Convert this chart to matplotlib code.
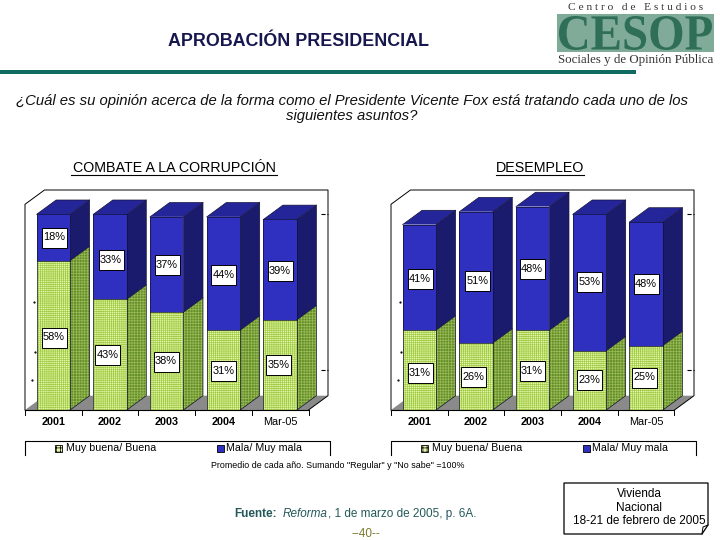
import matplotlib
matplotlib.use("Agg")
import matplotlib.pyplot as plt
from matplotlib.patches import PathPatch, Polygon, Rectangle
from matplotlib.font_manager import FontProperties
from matplotlib.textpath import TextPath
from matplotlib.transforms import Affine2D

plt.rcParams["font.family"] = ["Liberation Sans", "DejaVu Sans"]
plt.rcParams["hatch.linewidth"] = 0.5

# ── Data ──────────────────────────────────────────────────────────────────────
CATEGORIES = ["2001", "2002", "2003", "2004", "Mar-05"]
SERIES_NAMES = ["Muy buena/ Buena", "Mala/ Muy mala"]

CORRUPCION_BUENA = [58, 43, 38, 31, 35]
CORRUPCION_MALA = [18, 33, 37, 44, 39]
DESEMPLEO_BUENA = [31, 26, 31, 23, 25]
DESEMPLEO_MALA = [41, 51, 48, 53, 48]

# Label box centres in page pixels (placed by hand in the original too)
CORRUPCION_LABELS_BUENA = [(54, 337.5), (107.5, 355), (166, 361.5), (223.5, 370.5), (278.5, 364.5)]
CORRUPCION_LABELS_MALA = [(54, 237.5), (111, 260), (167, 265), (223.5, 274.5), (280, 270.5)]
DESEMPLEO_LABELS_BUENA = [(420, 373), (473.5, 376.5), (532, 370.5), (589.5, 380), (644, 377.5)]
DESEMPLEO_LABELS_MALA = [(420, 278.5), (477.5, 280.5), (532, 269), (589.5, 282), (646, 284)]

# ── Geometry / style ──────────────────────────────────────────────────────────
W, H = 720, 540
BASE_PX = 410
TOP_PX = 190
PX_PER_CAT = 56.7
PX_PER_PCT = 2.575
DEPTH_PX = (19.5, 14.3)
BAR_W = 0.59

GREEN_FRONT = "#e6f8ae"
GREEN_HATCH = "#a2cc48"
GREEN_SIDE = "#638f28"
GREEN_SIDE_HATCH = "#9cba58"
BLUE_FRONT = "#2f2fc0"
BLUE_SIDE = "#1b1b6e"
BLUE_TOP = "#25259a"
TEAL = "#0f6b5f"

fig = plt.figure(figsize=(W / 100, H / 100), dpi=100, facecolor="white")
page = fig.add_axes([0, 0, 1, 1], zorder=0)
page.set_xlim(0, W)
page.set_ylim(H, 0)
page.axis("off")
overlay = fig.add_axes([0, 0, 1, 1], zorder=5)
overlay.set_xlim(0, W)
overlay.set_ylim(H, 0)
overlay.axis("off")


def chart(left, buena, mala, labels_buena, labels_mala):
    width = PX_PER_CAT * len(CATEGORIES)
    ax = fig.add_axes(
        [left / W, 1 - BASE_PX / H, width / W, (BASE_PX - TOP_PX) / H], zorder=2
    )
    ax.set_xlim(-0.5, len(CATEGORIES) - 0.5)
    ax.set_ylim(0, (BASE_PX - TOP_PX) / PX_PER_PCT)
    ax.axis("off")
    dx = DEPTH_PX[0] / PX_PER_CAT
    dy = DEPTH_PX[1] / PX_PER_PCT

    def poly(pts, **kw):
        ax.add_patch(Polygon(pts, closed=True, clip_on=False, **kw))

    x0, x1 = -0.5, len(CATEGORIES) - 0.5
    ytop = ax.get_ylim()[1]
    # floor and back wall
    poly([(x0, 0), (x1, 0), (x1 + dx, dy), (x0 + dx, dy)], fc="#8a8a8a", ec="none", zorder=1)
    ax.plot(
        [x0, x0, x0 + dx, x1 + dx, x1 + dx, x1],
        [0, ytop - dy, ytop, ytop, dy, 0],
        color="black", lw=0.7, clip_on=False, zorder=1,
    )
    ax.plot([x0, x1], [0, 0], color="black", lw=0.8, clip_on=False, zorder=6)
    for i in range(len(CATEGORIES) + 1):
        ax.plot([x0 + i, x0 + i], [0, -2], color="black", lw=0.7, clip_on=False, zorder=6)
    # right-hand gridline stubs
    for y in (76, 15.5):
        ax.plot([x1 + dx - 0.12, x1 + dx], [y, y], color="black", lw=0.8, ls="--",
                clip_on=False, zorder=1)

    for i, (b, m) in enumerate(zip(buena, mala)):
        l, r = i - BAR_W / 2, i + BAR_W / 2
        t = b + m
        ax.bar(i, b, BAR_W, color=GREEN_FRONT, hatch="++++++++", edgecolor=GREEN_HATCH,
               linewidth=0, zorder=4)
        ax.bar(i, m, BAR_W, bottom=b, color=BLUE_FRONT, linewidth=0, zorder=4)
        ax.add_patch(Rectangle((l, 0), BAR_W, t, fc="none", ec="#111133", lw=0.5, zorder=5))
        ax.plot([l, r], [b, b], color="#111133", lw=0.5, zorder=5)
        poly([(r, 0), (r + dx, dy), (r + dx, b + dy), (r, b)], fc=GREEN_SIDE,
             ec=GREEN_SIDE_HATCH, hatch="++++++", lw=0, zorder=3)
        poly([(r, b), (r + dx, b + dy), (r + dx, t + dy), (r, t)], fc=BLUE_SIDE, ec="none", zorder=3)
        poly([(l, t), (r, t), (r + dx, t + dy), (l + dx, t + dy)], fc=BLUE_TOP, ec="none", zorder=3)
        ax.plot([r, r + dx, r + dx, l + dx, l], [0, dy, t + dy, t + dy, t],
                color="#111133", lw=0.5, clip_on=False, zorder=5)
        ax.plot([r, r + dx], [t, t + dy], color="#111133", lw=0.5, clip_on=False, zorder=5)
        ax.plot([r, r + dx], [b, b + dy], color="#111133", lw=0.5, clip_on=False, zorder=5)
        ax.text(i, -4.8, CATEGORIES[i], ha="center", va="center", fontsize=7.8,
                clip_on=False, fontweight="bold" if i < 4 else "normal")

    for vals, pos in ((buena, labels_buena), (mala, labels_mala)):
        for v, (px, py) in zip(vals, pos):
            overlay.add_patch(Rectangle((px - 12.5, py - 10), 25, 20, fc="white", ec="black", lw=0.7))
            overlay.text(px, py, f"{v}%", ha="center", va="center", fontsize=7.9)

    # specks left of the wall
    for sx, sy in ((8.5, 301.5), (9.5, 352), (7, 380)):
        page.plot(left + sx, sy, ".", color="black", ms=1.2)

    # legend box, open at the bottom like the cropped original
    lx0, lx1, ly0, ly1 = left, left + 304.5, 441, 455
    page.plot([lx0, lx0, lx1, lx1], [ly1, ly0, ly0, ly1], color="black", lw=0.8)
    page.add_patch(Rectangle((left + 30, 444.5), 7, 7, fc=GREEN_FRONT, ec="black", lw=0.6,
                             hatch="++++", zorder=2))
    page.text(left + 41, 448, SERIES_NAMES[0], va="center", fontsize=7.7)
    page.add_patch(Rectangle((left + 191.5, 444.5), 7, 7, fc=BLUE_FRONT, ec="black", lw=0.6, zorder=2))
    page.text(left + 201.5, 448, SERIES_NAMES[1], va="center", fontsize=7.7)


chart(25, CORRUPCION_BUENA, CORRUPCION_MALA, CORRUPCION_LABELS_BUENA, CORRUPCION_LABELS_MALA)
chart(391, DESEMPLEO_BUENA, DESEMPLEO_MALA, DESEMPLEO_LABELS_BUENA, DESEMPLEO_LABELS_MALA)

# ── Header ────────────────────────────────────────────────────────────────────
page.text(298, 41, "APROBACIÓN PRESIDENCIAL", ha="center", va="center",
          fontsize=12.9, fontweight="bold", color="#17174f")
page.add_patch(Rectangle((0, 70), 636, 3.5, fc=TEAL, ec="none"))

# logo: the big letters are stretched to fill their box
page.text(636, 7.5, "C e n t r o   d e   E s t u d i o s", ha="center", va="center",
          family="Liberation Serif", fontsize=8.2, color="#333333")
page.add_patch(Rectangle((557, 14), 157, 38, fc="#7fab98", ec="none"))
logo = TextPath((0, 0), "CESOP", size=10, prop=FontProperties(family="Liberation Serif", weight="bold"))
box = logo.get_extents()
sx, sy = 153 / box.width, 34 / box.height
to_page = Affine2D().translate(-box.x0, -box.y0).scale(sx, -sy).translate(559, 50)
page.add_patch(PathPatch(logo, transform=to_page + page.transData, fc="#2f6f57", ec="none"))
page.text(635.5, 59.5, "Sociales y de Opinión Pública", ha="center", va="center",
          family="Liberation Serif", fontsize=9.3, color="#333333")

page.text(352, 101, "¿Cuál es su opinión acerca de la forma como el Presidente Vicente Fox está tratando cada uno de los",
          ha="center", va="center", style="italic", fontsize=10.7, color="#111111")
page.text(352, 116, "siguientes asuntos?", ha="center", va="center", style="italic",
          fontsize=10.7, color="#111111")

for cx, x0, x1, title in ((174, 71, 277, "COMBATE A LA CORRUPCIÓN"), (540, 496, 584, "DESEMPLEO")):
    page.text(cx, 168.5, title, ha="center", va="center", fontsize=10.3)
    page.plot([x0, x1], [175, 175], color="black", lw=0.8)

# ── Footer ────────────────────────────────────────────────────────────────────
page.text(338, 465, 'Promedio de cada año. Sumando "Regular" y "No sabe" =100%',
          ha="center", va="center", fontsize=6.4)
page.text(234, 514, "Fuente:", va="center", fontsize=8.5, fontweight="bold", color="#24585a")
page.text(283, 514, "Reforma", va="center", fontsize=8.5, style="italic", color="#24585a")
page.text(328, 514, ", 1 de marzo de 2005, p. 6A.", va="center", fontsize=8.5, color="#24585a")
page.text(366, 534, "--40--", ha="center", va="center", fontsize=8.5, color="#7a7a30")

page.add_patch(Polygon([(564, 483), (708, 483), (708, 525), (702, 534), (564, 534)],
                       closed=True, fc="white", ec="black", lw=0.9))
page.plot([702, 703, 708], [534, 527, 525], color="black", lw=0.7)
for y, line in ((494, "Vivienda"), (508, "Nacional"), (521.5, "18-21 de febrero de 2005")):
    page.text(639, y, line, ha="center", va="center", fontsize=8.5)

fig.savefig("out.png", dpi=100)
